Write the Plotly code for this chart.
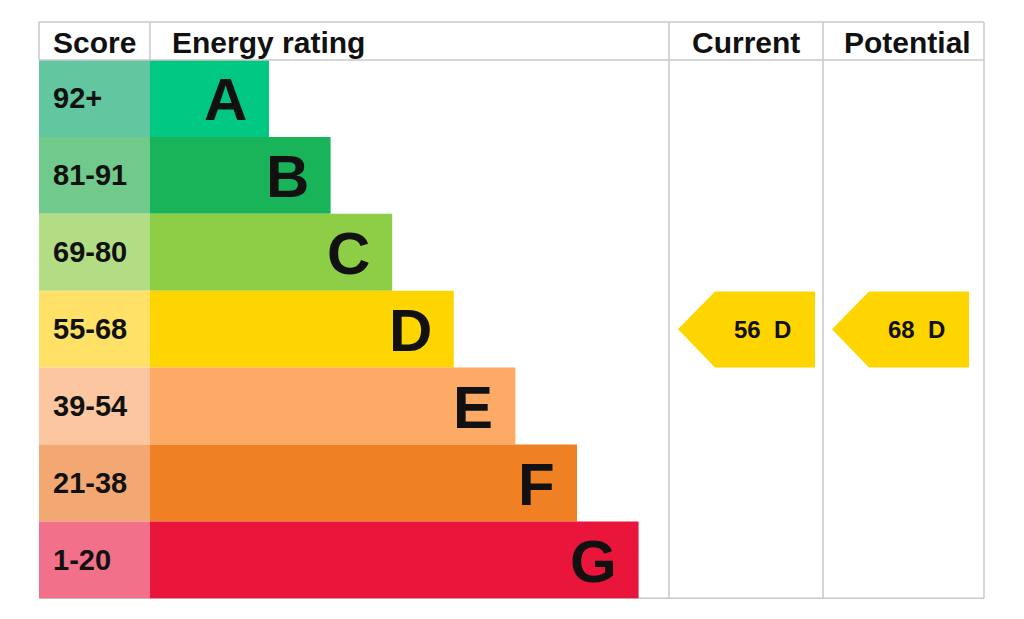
import plotly.graph_objects as go

# ---- data ----
bands = ["A", "B", "C", "D", "E", "F", "G"]
score_ranges = ["92+", "81-91", "69-80", "55-68", "39-54", "21-38", "1-20"]
band_min = [92, 81, 69, 55, 39, 21, 1]
bar_colors = ["#00c781", "#19b459", "#8dce46", "#ffd500", "#fcaa65", "#ef8023", "#e9153b"]
score_colors = ["#62c6a1", "#72c98c", "#b3dd85", "#ffe167", "#fcc7a0", "#f3a874", "#f27089"]
headers = ["Score", "Energy rating", "Current", "Potential"]
current_score = 56
potential_score = 68

# ---- layout constants (page pixel frame) ----
OFF = 8  # default page margin of the html body
W, H = 1024, 619
TOP, HEAD_H, ROW_H = 22, 38, 76.9
X_LEFT, X_SCORE, X_CUR, X_POT, X_RIGHT = 39, 150, 669, 823, 984
BAR_MIN, BAR_STEP = 119, 61.6
GRID = "#c8c8c8"
FONT = "Liberation Sans, Arial, Helvetica, sans-serif"

y0_row = TOP + HEAD_H  # pixel of first row top
y_top = (OFF - y0_row) / ROW_H
y_bot = (H - y0_row) / ROW_H


def py(p):
    return (p - y0_row) / ROW_H


def band_index(score):
    for i, m in enumerate(band_min):
        if score >= m:
            return i
    return len(bands) - 1


fig = go.Figure()
rows = list(range(len(bands)))
centers = [i + 0.5 for i in rows]
lengths = [BAR_MIN + BAR_STEP * i for i in rows]

# score column cells
fig.add_trace(go.Bar(
    y=centers, x=[X_SCORE - X_LEFT] * len(bands), base=X_LEFT,
    orientation="h", width=1, marker=dict(color=score_colors, line=dict(width=0)),
    hoverinfo="skip", showlegend=False,
))
# rating bars
fig.add_trace(go.Bar(
    y=centers, x=lengths, base=X_SCORE,
    orientation="h", width=1, marker=dict(color=bar_colors, line=dict(width=0)),
    hoverinfo="skip", showlegend=False,
))

annotations = []
for i in rows:
    annotations.append(dict(x=51, y=centers[i], text="<b>%s</b>" % score_ranges[i],
                            xanchor="left", yanchor="middle", showarrow=False,
                            font=dict(size=29, color="#111111", family=FONT)))
    annotations.append(dict(x=X_SCORE + lengths[i] - 20, y=centers[i] + 0.02,
                            text="<b>%s</b>" % bands[i],
                            xanchor="right", yanchor="middle", showarrow=False,
                            font=dict(size=60, color="#111111", family=FONT)))

# header
hy = py(TOP + HEAD_H / 2 + 1)
hfont = dict(size=30, color="#111111", family=FONT)
annotations.append(dict(x=51, y=hy, text="<b>%s</b>" % headers[0], xanchor="left",
                        yanchor="middle", showarrow=False, font=hfont))
annotations.append(dict(x=170, y=hy, text="<b>%s</b>" % headers[1], xanchor="left",
                        yanchor="middle", showarrow=False, font=hfont))
annotations.append(dict(x=(X_CUR + X_POT) / 2, y=hy, text="<b>%s</b>" % headers[2], xanchor="center",
                        yanchor="middle", showarrow=False, font=hfont))
annotations.append(dict(x=(X_POT + X_RIGHT) / 2 + 4, y=hy, text="<b>%s</b>" % headers[3], xanchor="center",
                        yanchor="middle", showarrow=False, font=hfont))

# arrows
for score, col_left in [(current_score, X_CUR), (potential_score, X_POT)]:
    i = band_index(score)
    tip = col_left + 9
    notch = col_left + 46
    right = col_left + 146
    t, b = i + 0.01, i + 1
    fig.add_trace(go.Scatter(
        x=[tip, notch, right, right, notch, tip],
        y=[i + 0.5, t, t, b, b, i + 0.5],
        mode="lines", fill="toself", fillcolor=bar_colors[i],
        line=dict(width=0, color=bar_colors[i]), hoverinfo="skip", showlegend=False,
    ))
    annotations.append(dict(x=(notch + right) / 2 - 3, y=i + 0.5, text="<b>%d  %s</b>" % (score, bands[i]),
                            xanchor="center", yanchor="middle", showarrow=False,
                            font=dict(size=24, color="#111111", family=FONT)))

# grid lines
shapes = []
def hline(yp, x0, x1, layer="above"):
    shapes.append(dict(type="line", x0=x0, x1=x1, y0=py(yp), y1=py(yp),
                       line=dict(color=GRID, width=1.5), layer=layer))
def vline(xp, y0p, y1p, layer="below"):
    shapes.append(dict(type="line", x0=xp, x1=xp, y0=py(y0p), y1=py(y1p),
                       line=dict(color=GRID, width=1.5), layer=layer))

bottom = y0_row + ROW_H * len(bands)
hline(TOP, X_LEFT, X_RIGHT)
hline(y0_row, X_LEFT, X_RIGHT)
hline(bottom, X_LEFT, X_RIGHT, layer="below")
vline(X_LEFT, TOP, y0_row)
vline(X_SCORE, TOP, y0_row)
vline(X_CUR, TOP, bottom)
vline(X_POT, TOP, bottom)
vline(X_RIGHT, TOP, bottom)

fig.update_layout(
    width=W - OFF, height=H - OFF, margin=dict(l=0, r=0, t=0, b=0),
    paper_bgcolor="white", plot_bgcolor="white",
    barmode="overlay",
    xaxis=dict(range=[OFF, W], visible=False, fixedrange=True),
    yaxis=dict(range=[y_bot, y_top], visible=False, fixedrange=True),
    annotations=annotations, shapes=shapes,
)

fig.write_html("out.html")
